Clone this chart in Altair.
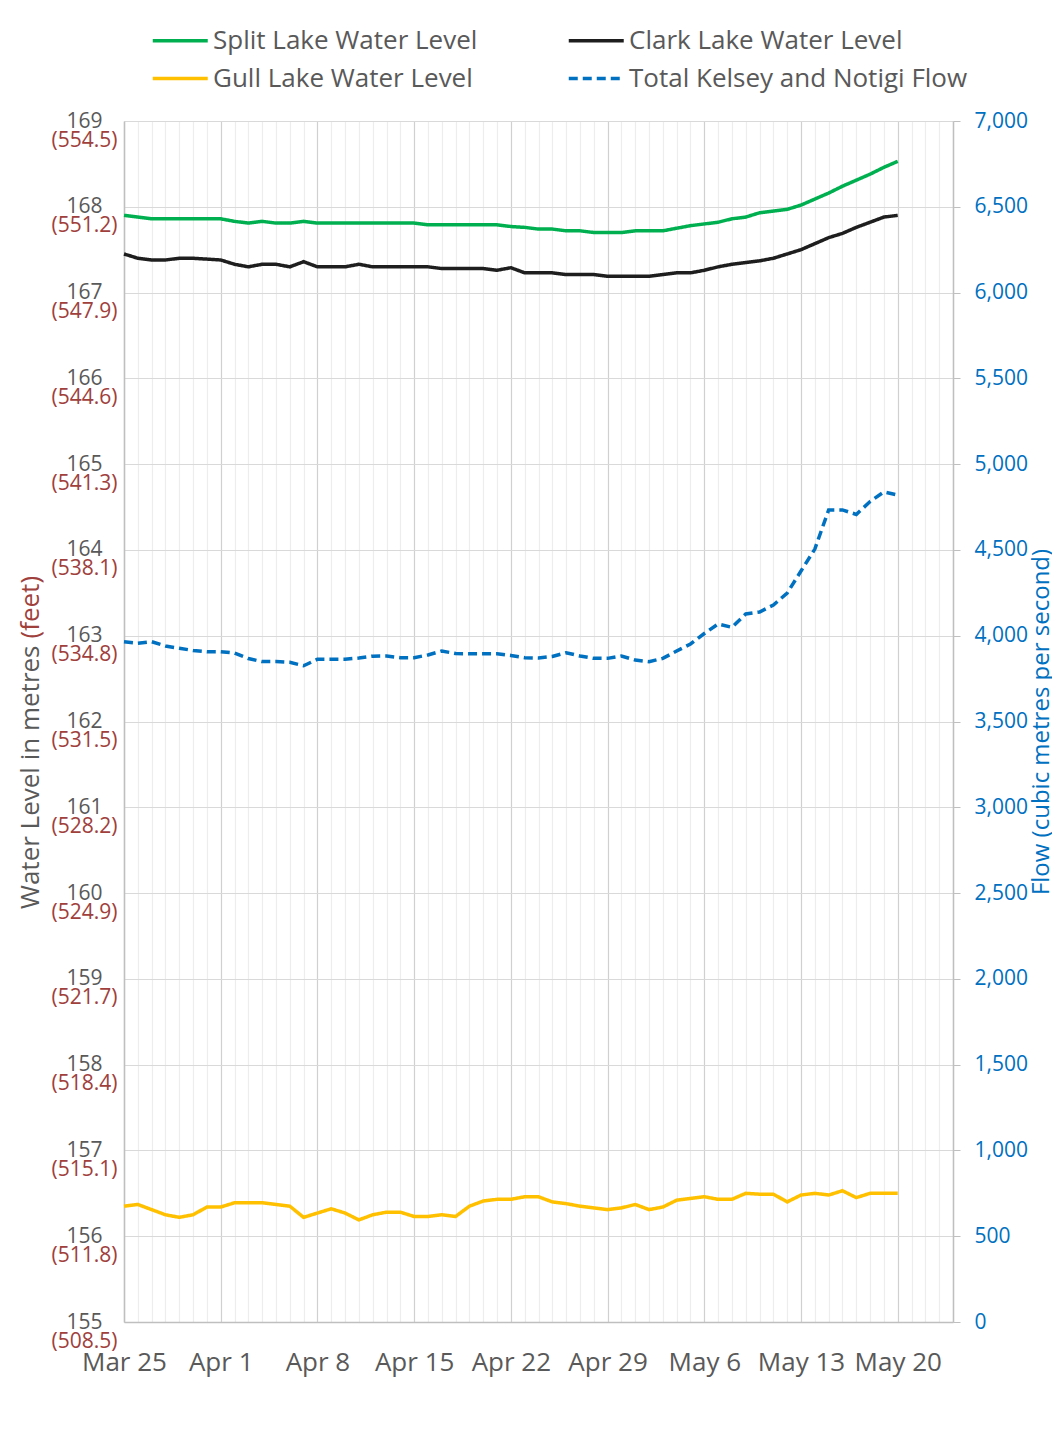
import altair as alt
import pandas as pd

# ---- data (daily, Mar 25 - May 20) ----
start_date = "2024-03-25"
n_days = 57
axis_end = "2024-05-24"

split_lake = [167.90, 167.88, 167.86, 167.86, 167.86, 167.86, 167.86, 167.86, 167.83, 167.81,
              167.83, 167.81, 167.81, 167.83, 167.81, 167.81, 167.81, 167.81, 167.81, 167.81,
              167.81, 167.81, 167.79, 167.79, 167.79, 167.79, 167.79, 167.79, 167.77, 167.76,
              167.74, 167.74, 167.72, 167.72, 167.70, 167.70, 167.70, 167.72, 167.72, 167.72,
              167.75, 167.78, 167.80, 167.82, 167.86, 167.88, 167.93, 167.95, 167.97, 168.02,
              168.09, 168.16, 168.24, 168.31, 168.38, 168.46, 168.53]

clark_lake = [167.45, 167.40, 167.38, 167.38, 167.40, 167.40, 167.39, 167.38, 167.33, 167.30,
              167.33, 167.33, 167.30, 167.36, 167.30, 167.30, 167.30, 167.33, 167.30, 167.30,
              167.30, 167.30, 167.30, 167.28, 167.28, 167.28, 167.28, 167.26, 167.29, 167.23,
              167.23, 167.23, 167.21, 167.21, 167.21, 167.19, 167.19, 167.19, 167.19, 167.21,
              167.23, 167.23, 167.26, 167.30, 167.33, 167.35, 167.37, 167.40, 167.45, 167.50,
              167.57, 167.64, 167.69, 167.76, 167.82, 167.88, 167.90]

gull_lake = [156.35, 156.37, 156.31, 156.25, 156.22, 156.25, 156.34, 156.34, 156.39, 156.39,
             156.39, 156.37, 156.35, 156.22, 156.27, 156.32, 156.27, 156.19, 156.25, 156.28,
             156.28, 156.23, 156.23, 156.25, 156.23, 156.35, 156.41, 156.43, 156.43, 156.46,
             156.46, 156.40, 156.38, 156.35, 156.33, 156.31, 156.33, 156.37, 156.31, 156.34,
             156.42, 156.44, 156.46, 156.43, 156.43, 156.50, 156.49, 156.49, 156.40, 156.48,
             156.50, 156.48, 156.53, 156.45, 156.50, 156.50, 156.50]

total_flow = [3965, 3956, 3965, 3940, 3927, 3914, 3907, 3907, 3899, 3867,
              3849, 3849, 3845, 3825, 3863, 3863, 3863, 3870, 3881, 3882,
              3872, 3872, 3888, 3911, 3896, 3895, 3895, 3895, 3885, 3872,
              3870, 3879, 3901, 3882, 3868, 3868, 3882, 3858, 3849, 3868,
              3911, 3952, 4013, 4068, 4049, 4127, 4138, 4179, 4249, 4377,
              4505, 4733, 4733, 4707, 4782, 4838, 4820]

# legend order (fills column by column): Split, Gull | Clark, Flow
series_names = ["Split Lake Water Level", "Gull Lake Water Level",
                "Clark Lake Water Level", "Total Kelsey and Notigi Flow"]
series_colors = ["#00B050", "#FFC000", "#1E1E1E", "#0070C0"]
series_dashes = [[1, 0], [1, 0], [1, 0], [9, 5]]
lake_names = ["Split Lake Water Level", "Clark Lake Water Level", "Gull Lake Water Level"]
flow_name = "Total Kelsey and Notigi Flow"

level_ticks = list(range(155, 170))
flow_ticks = list(range(0, 7001, 500))

# ---- tables ----
dates = pd.date_range(start_date, periods=n_days, freq="D").strftime("%Y-%m-%d").tolist()
lake_rows = []
for name, arr in zip(lake_names, [split_lake, clark_lake, gull_lake]):
    for d, v in zip(dates, arr):
        lake_rows.append({"date": d, "series": name, "value": v})
lakes = pd.DataFrame(lake_rows)
flow_df = pd.DataFrame({"date": dates, "series": flow_name, "value": total_flow})

all_days = pd.date_range(start_date, axis_end, freq="D")
day_values = [alt.DateTime(year=int(t.year), month=int(t.month), date=int(t.day), utc=True) for t in all_days]

GRAY = "#595959"
RED = "#A0403C"
BLUE = "#0070C0"
LINE = "#BFBFBF"
BIG = 26

x_enc = alt.X(
    "date:T",
    scale=alt.Scale(type="utc", domain=[day_values[0], day_values[-1]]),
    axis=alt.Axis(
        values=day_values,
        labelExpr="utcday(datum.value) == 1 ? utcFormat(datum.value, '%b %-d') : ''",
        labelOverlap=False, labelFlush=False,
        labelColor=GRAY, labelFontSize=BIG, labelPadding=27,
        ticks=False, domainColor=LINE, domainWidth=1.5,
        grid=True,
        gridColor={"condition": {"test": "utcday(datum.value) == 1", "value": "#D0D0D0"},
                   "value": "#EDEDED"},
        gridWidth=1.2,
        title=None,
    ),
)

# custom horizontal-line symbol: path scaled by sqrt(size)/2 -> 55 px long
legend = alt.Legend(
    orient="none", legendX=27, legendY=-96, columns=2, title=None,
    symbolType="M-1,0L3,0", symbolSize=756, symbolStrokeWidth=3.5,
    labelFontSize=BIG, labelColor=GRAY, labelOffset=31, labelLimit=500,
    columnPadding=83, rowPadding=9, padding=0,
)
color_enc = alt.Color("series:N", scale=alt.Scale(domain=series_names, range=series_colors), legend=legend)
dash_enc = alt.StrokeDash("series:N", scale=alt.Scale(domain=series_names, range=series_dashes), legend=legend)

lake_lines = alt.Chart(lakes).mark_line(strokeWidth=3.5).encode(
    x=x_enc,
    y=alt.Y("value:Q",
            scale=alt.Scale(domain=[155, 169], nice=False, zero=False),
            axis=alt.Axis(orient="left", values=level_ticks, grid=True, gridColor="#D9D9D9",
                          gridWidth=1.2, ticks=False, domainColor=LINE, domainWidth=1.5,
                          labelColor=GRAY, labelFontSize=21, labelPadding=22, labelOffset=0,
                          labelBaseline="middle",
                          title="Water Level in metres", titleColor=GRAY, titleFontSize=BIG,
                          titleFontWeight="normal", titleAngle=270, titleAlign="right",
                          titleBaseline="middle", titleX=-94, titleY=524)),
    color=color_enc,
    strokeDash=dash_enc,
)

feet_labels = alt.Chart(lakes).mark_line(opacity=0).encode(
    x=x_enc,
    y=alt.Y("value:Q",
            scale=alt.Scale(domain=[155, 169], nice=False, zero=False),
            axis=alt.Axis(orient="left", values=level_ticks, grid=False, ticks=False, domain=False,
                          labelExpr="'(' + format(datum.value * 3.28084, '.1f') + ')'",
                          labelColor=RED, labelFontSize=21, labelPadding=7, labelOffset=19,
                          labelBaseline="middle",
                          title="(feet)", titleColor=RED, titleFontSize=BIG, titleFontWeight="normal",
                          titleAngle=270, titleAlign="left", titleBaseline="middle",
                          titleX=-94, titleY=517)),
)

flow_line = alt.Chart(flow_df).mark_line(strokeWidth=3.5).encode(
    x=x_enc,
    y=alt.Y("value:Q",
            scale=alt.Scale(domain=[0, 7000], nice=False),
            axis=alt.Axis(orient="right", values=flow_ticks, format=",d", grid=False,
                          domainColor=LINE, domainWidth=1.5, tickColor=LINE, tickSize=7,
                          labelColor=BLUE, labelFontSize=21, labelPadding=14,
                          title="Flow (cubic metres per second)", titleColor=BLUE, titleFontSize=24,
                          titleFontWeight="normal", titleAngle=270, titleBaseline="middle",
                          titleX=88)),
    color=color_enc,
    strokeDash=dash_enc,
)

chart = alt.layer(lake_lines, feet_labels, flow_line).resolve_scale(
    y="independent"
).properties(
    width=829, height=1201,
    autosize="none",
    padding={"left": 116, "top": 113, "right": 99, "bottom": 80},
).configure(
    font="Open Sans",
).configure_view(stroke=None)

chart.save("out.html", embed_options={"renderer": "svg", "actions": False})
